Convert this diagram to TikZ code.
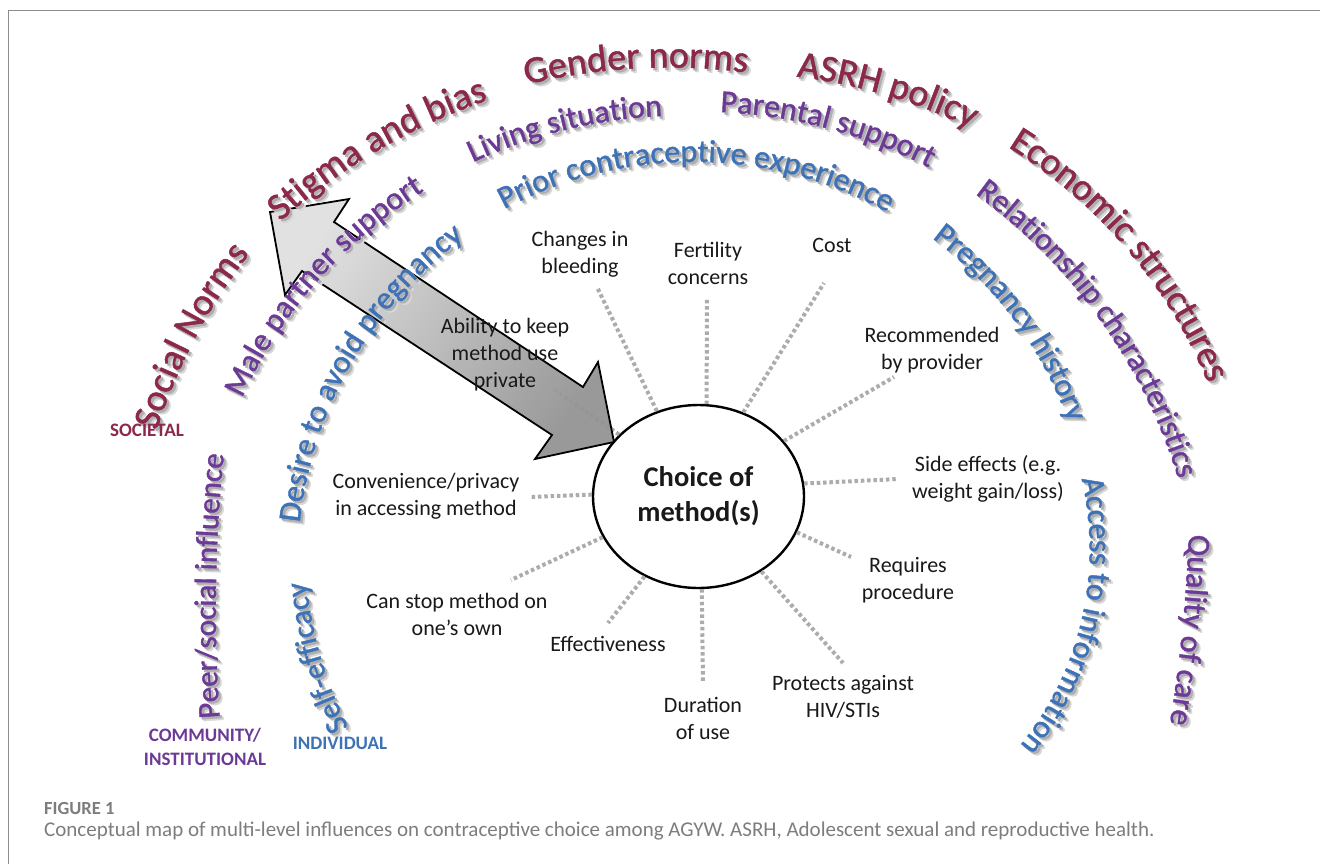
\documentclass[tikz,border=0pt]{standalone}
\usepackage{fontspec}
\setmainfont{Carlito}
\newfontfamily\arcfont{Carlito}[FakeBold=1.3]
\usetikzlibrary{decorations.text,shapes.geometric}

\definecolor{societal}{RGB}{140,40,75}
\definecolor{community}{RGB}{108,58,150}
\definecolor{individual}{RGB}{62,114,182}
\definecolor{spokegray}{RGB}{172,172,172}
\definecolor{shadownear}{RGB}{175,175,175}
\definecolor{shadowfar}{RGB}{215,215,215}
\definecolor{captiongray}{RGB}{125,125,125}
\definecolor{framegray}{RGB}{140,140,140}

% Words set along a circular arc, one pass per layer.
% #1 dx, #2 dy shift; #3 colour; #4 font size; #5 words
\newcommand\arcpass[5]{%
  \path[decorate,decoration={text along path,text align=center,
      text={|\arcfont\fontsize{#4}{#4}\selectfont\color{#3}|#5}}]
    (\cmx+#1,\cmy+#2) ++(\cnrm+180:\crad) ++(\cstart:\crad)
    arc[start angle=\cstart,end angle=\cend,radius=\crad];
}
% #1,#2 centre of first glyph; #3,#4 centre of last glyph;
% #5 bend radius; #6 font size; #7 colour; #8 words
\newcommand\curvedlabel[8]{%
  \pgfmathsetmacro\cdx{#3-#1}%
  \pgfmathsetmacro\cdy{#4-#2}%
  \pgfmathsetmacro\clen{100*veclen(\cdx/100,\cdy/100)}%
  \pgfmathsetmacro\cnrm{atan2(\cdy,\cdx)+90}%
  \pgfmathsetmacro\coff{\clen/#5*\clen/8-0.3*#6}%
  \pgfmathsetmacro\cmx{(#1+#3)/2+\coff*cos(\cnrm)}%
  \pgfmathsetmacro\cmy{(#2+#4)/2+\coff*sin(\cnrm)}%
  \pgfmathsetmacro\chalf{min(85,400/#5*57.3)}%
  \pgfmathsetmacro\cstart{\cnrm+\chalf}%
  \pgfmathsetmacro\cend{\cnrm-\chalf}%
  \def\crad{#5}%
  \arcpass{4}{-4}{shadowfar}{#6}{#8}%
  \arcpass{2.3}{-2.3}{shadownear}{#6}{#8}%
  \arcpass{0}{0}{#7}{#6}{#8}%
}

\tikzset{
  factor/.style={font=\fontsize{22}{27}\selectfont, align=center, text=black!90, inner sep=0},
  levellabel/.style={font=\bfseries\fontsize{19}{24}\selectfont, align=center, inner sep=0},
  spoke/.style={draw=spokegray, line width=4pt, dash pattern=on 3.5pt off 2.8pt},
  blockarrow/.style={draw=black, line width=1.8pt, left color=black!12, right color=black!42, shading angle=56},
}

\begin{document}
\begin{tikzpicture}[x=1pt,y=1pt]
\useasboundingbox (0,0) rectangle (1320,-863);
\fill[white] (0,0) rectangle (1320,-863);

% frame
\draw[framegray, line width=1.3pt] (8.5,-875) -- (8.5,-10.5) -- (1330,-10.5);

% central choice
\node[ellipse, draw, line width=2.4pt, minimum width=211, minimum height=183, inner sep=0,
      font=\bfseries\fontsize{28.5}{35}\selectfont, align=center, text=black!90] (choice) at (698.5,-496.5) {Choice of\\method(s)};

% outer ends of the spokes
\coordinate (e1) at (597,-287);
\coordinate (e2) at (707,-297);
\coordinate (e3) at (824,-283);
\coordinate (e4) at (894,-377);
\coordinate (e5) at (898,-479);
\coordinate (e6) at (851,-557);
\coordinate (e7) at (843,-663);
\coordinate (e8) at (703,-683);
\coordinate (e9) at (608,-623);
\coordinate (e10) at (511,-580);
\coordinate (e11) at (530,-497);
\coordinate (e12) at (552,-388);

\draw[spoke] (choice.116) -- (e1);
\draw[spoke] (choice.85) -- (e2);
\draw[spoke] (choice.62) -- (e3);
\draw[spoke] (choice.33) -- (e4);
\draw[spoke] (choice.7) -- (e5);
\draw[spoke] (choice.-20) -- (e6);
\draw[spoke] (choice.-50) -- (e7);
\draw[spoke] (choice.-88) -- (e8);
\draw[spoke] (choice.-124) -- (e9);
\draw[spoke] (choice.-157) -- (e10);
\draw[spoke] (choice.179) -- (e11);
\draw[spoke] (choice.142) -- (e12);

% double-headed block arrow
\path[blockarrow, fill opacity=0.95]
  (270,-212) -- (349,-199) -- (334,-222) -- (583,-387) -- (598,-362) -- (614,-442)
  -- (535,-459) -- (552,-435) -- (302,-271) -- (285,-295) -- cycle;

% factor labels
\node[factor] (bleed) at (580,-254) {Changes in\\bleeding};
\node[factor] (fert) at (708,-263) {Fertility\\concerns};
\node[factor] (cost) at (832,-245) {Cost};
\node[factor] (recom) at (932,-350) {Recommended\\by provider};
\node[factor] (side) at (988,-479) {Side effects (e.g.\\weight gain/loss)};
\node[factor] (proc) at (908,-580) {Requires\\procedure};
\node[factor] (prot) at (843,-697) {Protects against\\HIV/STIs};
\node[factor] (dur) at (703,-718) {Duration\\of use};
\node[factor] (eff) at (608,-644) {Effectiveness};
\node[factor] (stop) at (457,-614) {Can stop method on\\one’s own};
\node[factor] (conv) at (426,-496) {Convenience/privacy\\in accessing method};
\node[factor] (priv) at (505,-355) {Ability to keep\\method use\\private};

% societal ring
\curvedlabel{150}{-415}{233}{-257}{560}{38}{societal}{Social Norms}
\curvedlabel{281}{-206}{474}{-93}{600}{38}{societal}{Stigma and bias}
\curvedlabel{535}{-71}{737}{-60}{600}{38}{societal}{Gender norms}
\curvedlabel{810}{-67}{965}{-113}{550}{38}{societal}{ASRH policy}
\curvedlabel{1026}{-145}{1213}{-366}{500}{38}{societal}{Economic structures}

% community / institutional ring
\curvedlabel{239}{-382}{408}{-190}{470}{32}{community}{Male partner support}
\curvedlabel{477}{-150}{653}{-107}{500}{32}{community}{Living situation}
\curvedlabel{730}{-103}{925}{-155}{500}{32}{community}{Parental support}
\curvedlabel{990}{-193}{1184}{-465}{550}{32}{community}{Relationship characteristics}
\curvedlabel{210}{-713}{214}{-459}{1500}{31}{community}{Peer/social influence}
\curvedlabel{1198}{-545}{1181}{-715}{1500}{32}{community}{Quality of care}

% individual ring
\curvedlabel{292}{-505}{445}{-240}{405}{32}{individual}{Desire to avoid pregnancy}
\curvedlabel{510}{-194}{882}{-197}{400}{32}{individual}{Prior contraceptive experience}
\curvedlabel{950}{-240}{1072}{-405}{390}{32}{individual}{Pregnancy history}
\curvedlabel{337}{-725}{298}{-590}{400}{31}{individual}{Self-efficacy}
\curvedlabel{1094}{-490}{1036}{-741}{311}{32}{individual}{Access to information}

% level names
\node[levellabel, text=societal] (lvlsoc) at (147,-430) {SOCIETAL};
\node[levellabel, text=community] (lvlcom) at (205,-747) {COMMUNITY/\\INSTITUTIONAL};
\node[levellabel, text=individual] (lvlind) at (340,-743) {INDIVIDUAL};

% caption
\node[anchor=west, inner sep=0, text=captiongray, font=\bfseries\fontsize{18.5}{22}\selectfont] (fig) at (44,-808) {FIGURE 1};
\node[anchor=west, inner sep=0, text=captiongray, font=\fontsize{21}{25}\selectfont] (cap) at (44,-831)
  {Conceptual map of multi-level influences on contraceptive choice among AGYW. ASRH, Adolescent sexual and reproductive health.};
\end{tikzpicture}
\end{document}
